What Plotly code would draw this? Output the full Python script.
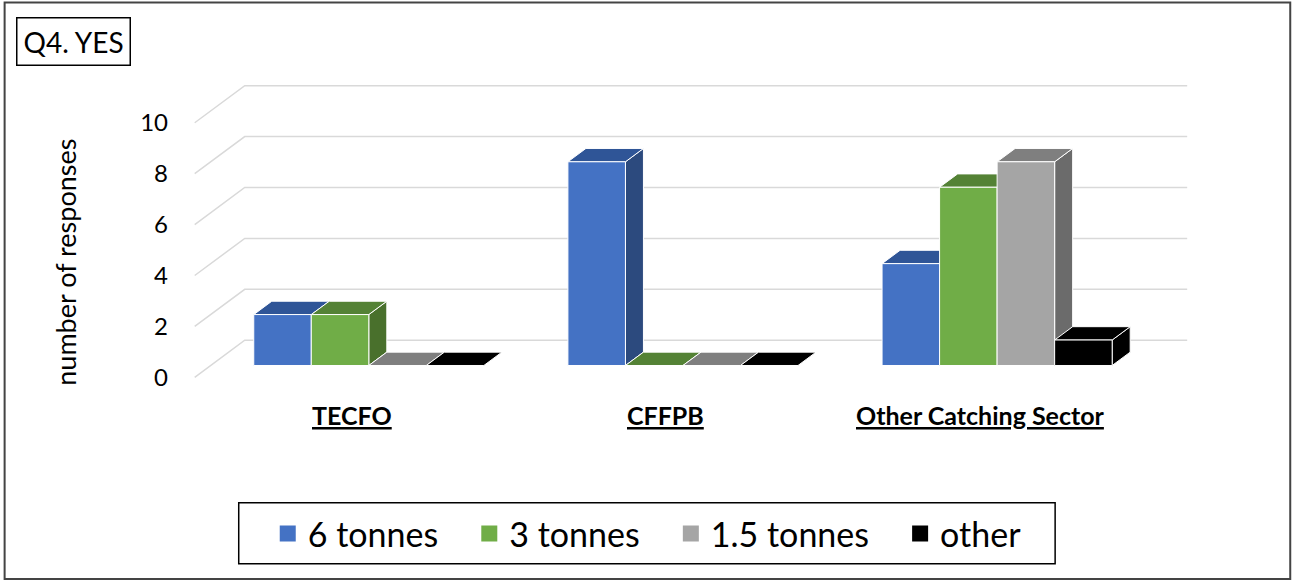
"""Q4. YES - 3D-style clustered columns drawn on a flat Plotly axis."""

import plotly.graph_objects as go

# --- data ---
categories = ["TECFO", "CFFPB", "Other Catching Sector"]
series_names = ["6 tonnes", "3 tonnes", "1.5 tonnes", "other"]
six_tonnes = [2, 8, 4]
three_tonnes = [2, 0, 7]
one_and_half_tonnes = [0, 0, 8]
other = [0, 0, 1]
y_ticks = [0, 2, 4, 6, 8, 10]

series_values = [six_tonnes, three_tonnes, one_and_half_tonnes, other]

# front / top / side colours per series
_FACE_COLORS = [
    ("#4472C4", "#2F5597", "#2C4A7E"),
    ("#70AD47", "#548235", "#49702C"),
    ("#A5A5A5", "#7F7F7F", "#6B6B6B"),
    ("#000000", "#000000", "#000000"),
]
_GRID = "#D9D9D9"
_FONT = "Lato, 'Open Sans', sans-serif"
_NBSP = "\u00a0"

# pixel layout of the plotting area
W, H = 1295, 585
X_RANGE = [-0.05, 3.2]
Y_RANGE = [-0.3, 11.6]
PLOT_L, PLOT_R = 179.3, 1199.8
PLOT_T, PLOT_B = 82.4, 384.6

# depth of the 3D box (in data units) and bar placement
DX = 50 / 314
DY = 37 / 25.4
D0, D1 = 0.32, 0.68
BAR_W = 57.5 / 314
GROUP_START = 0.137


def px_x(px):
    return (px - PLOT_L) / (PLOT_R - PLOT_L)


def px_y(py):
    return (PLOT_B - py) / (PLOT_B - PLOT_T)


def poly(points, color):
    xs = [p[0] for p in points] + [points[0][0]]
    ys = [p[1] for p in points] + [points[0][1]]
    return go.Scatter(
        x=xs, y=ys, mode="lines", fill="toself", fillcolor=color,
        line={"color": "white", "width": 1}, hoverinfo="skip", showlegend=False,
    )


fig = go.Figure()

# --- back wall and side wall gridlines ---
gx, gy = [], []
for v in y_ticks:
    gx += [0, DX, 3 + DX, None]
    gy += [v, v + DY, v + DY, None]
fig.add_trace(go.Scatter(x=gx, y=gy, mode="lines", line={"color": _GRID, "width": 1.5},
                         hoverinfo="skip", showlegend=False))

# --- bars: right side, top, front (left to right so neighbours overlap correctly) ---
for ci in range(len(categories)):
    for si, values in enumerate(series_values):
        v = values[ci]
        front_c, top_c, side_c = _FACE_COLORS[si]
        x0 = ci + GROUP_START + si * BAR_W
        x1 = x0 + BAR_W
        fa = (x0 + D0 * DX, D0 * DY)
        fb = (x1 + D0 * DX, D0 * DY)
        ba = (x1 + D1 * DX, D1 * DY)
        if v > 0:
            fig.add_trace(poly([fb, ba, (ba[0], ba[1] + v), (fb[0], fb[1] + v)], side_c))
        fig.add_trace(poly([
            (fa[0], fa[1] + v), (fb[0], fb[1] + v),
            (x1 + D1 * DX, D1 * DY + v), (x0 + D1 * DX, D1 * DY + v),
        ], top_c))
        if v > 0:
            fig.add_trace(poly([fa, fb, (fb[0], fb[1] + v), (fa[0], fa[1] + v)], front_c))

# --- legend entries (padded so the items spread like the original) ---
for name, (front_c, _, _) in zip(series_names, _FACE_COLORS):
    fig.add_trace(go.Scatter(
        x=[None], y=[None], mode="markers", name=name + _NBSP * 3,
        marker={"symbol": "square", "size": 16, "color": front_c},
    ))

# category labels under the floor
annotations = [
    dict(x=ci + 0.5, y=px_y(415), xref="x", yref="paper",
         xanchor="center", yanchor="middle",
         text=f"<b><u>{cat}</u></b>", showarrow=False,
         font={"size": 25, "color": "black", "family": _FONT})
    for ci, cat in enumerate(categories)
]
annotations.append(dict(
    x=px_x(65), y=px_y(262), xref="paper", yref="paper",
    xanchor="center", yanchor="middle",
    text="number of responses", textangle=-90, showarrow=False,
    font={"size": 27, "color": "black", "family": _FONT},
))
annotations.append(dict(
    x=px_x(16), y=px_y(18), xref="paper", yref="paper", xanchor="left", yanchor="top",
    text="Q4. YES", showarrow=False, bordercolor="black", borderwidth=1.5, borderpad=6,
    font={"size": 28, "color": "black", "family": _FONT},
))

fig.update_layout(
    width=W, height=H,
    margin={"l": PLOT_L, "r": W - PLOT_R, "t": PLOT_T, "b": H - PLOT_B, "autoexpand": False},
    paper_bgcolor="white", plot_bgcolor="white",
    font={"family": _FONT, "color": "black"},
    showlegend=True,
    legend={
        "orientation": "h", "x": px_x(268), "xanchor": "left",
        "y": px_y(533), "yanchor": "middle",
        "font": {"size": 34, "family": _FONT, "color": "black"},
        "bgcolor": "rgba(0,0,0,0)", "itemsizing": "trace",
    },
    annotations=annotations,
    shapes=[
        # outer chart border
        dict(type="rect", xref="paper", yref="paper",
             x0=px_x(5), x1=px_x(1290), y0=px_y(578), y1=px_y(3),
             line={"color": "#444444", "width": 2}),
        # legend frame
        dict(type="rect", xref="paper", yref="paper",
             x0=px_x(239), x1=px_x(1055), y0=px_y(563), y1=px_y(502),
             line={"color": "black", "width": 1.5}),
    ],
)
fig.update_xaxes(range=X_RANGE, visible=False, fixedrange=True)
fig.update_yaxes(
    range=Y_RANGE, tickvals=y_ticks, showgrid=False, zeroline=False,
    showline=False, ticklabelstandoff=10, fixedrange=True,
    tickfont={"size": 24, "family": _FONT, "color": "black"},
)

fig.write_html(
    "out.html",
    config={"displayModeBar": False},
    post_script="document.body.style.margin='0';",
)
